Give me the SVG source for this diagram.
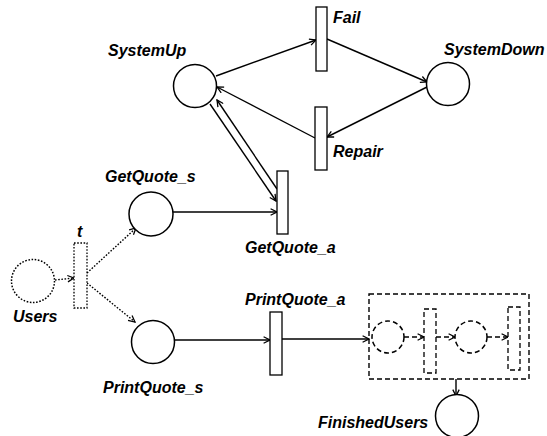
<svg xmlns="http://www.w3.org/2000/svg" width="547" height="436" viewBox="0 0 547 436">
  <style>
    .place { fill: #fff; stroke: #000; stroke-width: 1.5; }
    .trans { fill: #fff; stroke: #000; stroke-width: 1.3; }
    .dot { stroke-dasharray: 1.6 1.6; }
    .dash { stroke-dasharray: 5 3; }
    .arc { fill: none; stroke: #000; stroke-width: 1.4; marker-end: url(#arrow); }
    .lbl { font-family: "Liberation Sans", Arial, sans-serif; font-weight: bold; font-style: italic; font-size: 16px; fill: #000; }
  </style>
  <defs>
    <marker id="arrow" viewBox="0 0 10 10" refX="9" refY="5" markerWidth="8" markerHeight="8" markerUnits="userSpaceOnUse" orient="auto">
      <path d="M1,1 L9,5 L1,9" fill="none" stroke="#000" stroke-width="1.6"/>
    </marker>
  </defs>

  <!-- connectors -->
  <g id="connectors">
    <line class="arc" x1="216" y1="76" x2="316" y2="40"/>
    <line class="arc" x1="327" y1="39" x2="427" y2="82"/>
    <line class="arc" x1="427" y1="87" x2="327" y2="137"/>
    <line class="arc" x1="315" y1="138" x2="217" y2="87"/>
    <line class="arc" x1="210" y1="104" x2="276" y2="201"/>
    <line class="arc" x1="277" y1="189" x2="217" y2="100"/>
    <line class="arc" x1="173" y1="212" x2="277" y2="212"/>
    <line class="arc dot" x1="55" y1="280" x2="74" y2="278"/>
    <line class="arc dot" x1="87" y1="273" x2="136" y2="228"/>
    <line class="arc dot" x1="87" y1="283" x2="135" y2="322"/>
    <line class="arc" x1="175" y1="340" x2="270" y2="340"/>
    <line class="arc" x1="282" y1="339" x2="369" y2="339"/>
    <line class="arc dash" x1="404" y1="337" x2="424" y2="337"/>
    <line class="arc dash" x1="436" y1="337" x2="455" y2="337"/>
    <line class="arc dash" x1="487" y1="337" x2="508" y2="337"/>
    <line class="arc" x1="456" y1="379" x2="456" y2="396"/>
  </g>

  <g id="SystemUp">
    <circle class="place" cx="195" cy="86" r="21.5"/>
    <text class="lbl" x="108" y="56">SystemUp</text>
  </g>
  <g id="Fail">
    <rect class="trans" x="316" y="7" width="11" height="64"/>
    <text class="lbl" x="333" y="23">Fail</text>
  </g>
  <g id="SystemDown">
    <circle class="place" cx="448" cy="84" r="21.5"/>
    <text class="lbl" x="444" y="55">SystemDown</text>
  </g>
  <g id="Repair">
    <rect class="trans" x="315" y="107" width="12" height="63"/>
    <text class="lbl" x="333" y="157">Repair</text>
  </g>
  <g id="GetQuote_s">
    <circle class="place" cx="151" cy="214" r="22"/>
    <text class="lbl" x="105" y="182">GetQuote_s</text>
  </g>
  <g id="GetQuote_a">
    <rect class="trans" x="277" y="171" width="11" height="63"/>
    <text class="lbl" x="245" y="253">GetQuote_a</text>
  </g>
  <g id="Users">
    <circle class="place dot" cx="33" cy="281" r="21.5"/>
    <text class="lbl" x="13" y="322">Users</text>
  </g>
  <g id="t">
    <rect class="trans dot" x="74" y="243" width="13" height="65"/>
    <text class="lbl" x="77" y="237">t</text>
  </g>
  <g id="PrintQuote_s">
    <circle class="place" cx="153" cy="342" r="21.5"/>
    <text class="lbl" x="103" y="393">PrintQuote_s</text>
  </g>
  <g id="PrintQuote_a">
    <rect class="trans" x="270" y="312" width="12" height="63"/>
    <text class="lbl" x="245" y="305">PrintQuote_a</text>
  </g>
  <g id="Subnet">
    <rect x="369" y="294" width="160" height="85" fill="none" stroke="#000" stroke-width="1.4" class="dash"/>
    <circle class="place dash" cx="388" cy="337" r="16"/>
    <rect class="trans dash" x="424" y="309" width="12" height="64"/>
    <circle class="place dash" cx="471" cy="337" r="16"/>
    <rect class="trans dash" x="508" y="307" width="12" height="63"/>
  </g>
  <g id="FinishedUsers">
    <circle class="place" cx="457" cy="416" r="21.5"/>
    <text class="lbl" x="318" y="428">FinishedUsers</text>
  </g>
</svg>
